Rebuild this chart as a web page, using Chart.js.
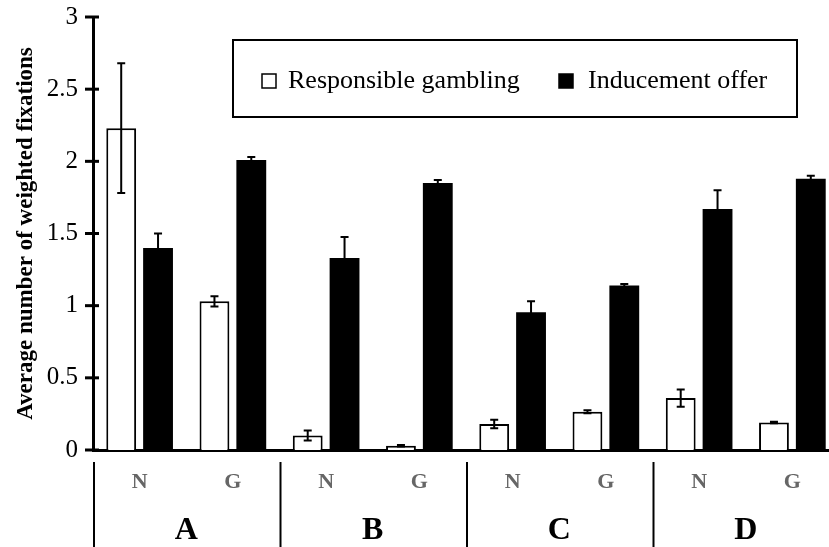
<!DOCTYPE html>
<html>
<head>
<meta charset="utf-8">
<script src="https://cdn.jsdelivr.net/npm/chart.js@4"></script>
<style>
  html, body { margin: 0; padding: 0; overflow: hidden; background: #fff; }
</style>
</head>
<body>
<canvas id="chart" width="839" height="547"></canvas>
<script>
const categories = ['N', 'G', 'N', 'G', 'N', 'G', 'N', 'G'];
const groups = ['A', 'B', 'C', 'D'];
const responsible = [2.23, 1.03, 0.10, 0.03, 0.18, 0.265, 0.36, 0.19];
const responsibleErr = [0.45, 0.035, 0.035, 0.005, 0.03, 0.01, 0.06, 0.005];
const inducement = [1.40, 2.01, 1.33, 1.85, 0.955, 1.14, 1.67, 1.88];
const inducementErr = [0.10, 0.02, 0.145, 0.02, 0.075, 0.01, 0.13, 0.02];

const serif = "'Liberation Serif', 'Times New Roman', serif";

// error bars, y tick marks crossing the axis
const errorBars = {
  id: 'errorBars',
  afterDatasetsDraw(chart) {
    const ctx = chart.ctx;
    const y = chart.scales.y;
    ctx.save();
    ctx.strokeStyle = '#000';
    ctx.lineWidth = 2;
    chart.data.datasets.forEach((ds, di) => {
      const meta = chart.getDatasetMeta(di);
      meta.data.forEach((bar, i) => {
        const v = ds.data[i], e = ds.errors[i];
        const top = y.getPixelForValue(v + e);
        const bot = y.getPixelForValue(v - e);
        ctx.beginPath();
        ctx.moveTo(bar.x, top); ctx.lineTo(bar.x, bot);
        ctx.moveTo(bar.x - 4, top); ctx.lineTo(bar.x + 4, top);
        ctx.moveTo(bar.x - 4, bot); ctx.lineTo(bar.x + 4, bot);
        ctx.stroke();
      });
    });
    ctx.restore();
  },
  afterDraw(chart) {
    const ctx = chart.ctx;
    const y = chart.scales.y;
    const x = chart.scales.x;
    const area = chart.chartArea;
    ctx.save();
    // y ticks
    ctx.strokeStyle = '#000';
    ctx.lineWidth = 3;
    y.ticks.forEach(t => {
      const py = y.getPixelForValue(t.value);
      ctx.beginPath();
      ctx.moveTo(area.left - 8, py); ctx.lineTo(area.left + 6, py);
      ctx.stroke();
    });
    // group separators and labels
    const half = (x.getPixelForValue(1) - x.getPixelForValue(0)) / 2;
    ctx.lineWidth = 2;
    groups.forEach((g, gi) => {
      const sx = x.getPixelForValue(gi * 2) - half;
      ctx.beginPath();
      ctx.moveTo(sx + 1, 462); ctx.lineTo(sx + 1, 547);
      ctx.stroke();
      const cx = (x.getPixelForValue(gi * 2) + x.getPixelForValue(gi * 2 + 1)) / 2;
      ctx.fillStyle = '#000';
      ctx.font = 'bold 32px ' + serif;
      ctx.textAlign = 'center';
      ctx.textBaseline = 'alphabetic';
      ctx.fillText(g, cx, 539);
    });
    // legend
    ctx.lineWidth = 2;
    ctx.strokeRect(233, 40, 564, 77);
    ctx.font = '26px ' + serif;
    ctx.textAlign = 'left';
    ctx.textBaseline = 'alphabetic';
    const items = [[262, 288], [559, 588]];
    chart.data.datasets.forEach((ds, di) => {
      const [bx, tx] = items[di];
      ctx.fillStyle = ds.backgroundColor;
      ctx.fillRect(bx, 74, 14, 14);
      ctx.lineWidth = 1.5;
      ctx.strokeRect(bx, 74, 14, 14);
      ctx.fillStyle = '#000';
      ctx.fillText(ds.label, tx, 88);
    });
    ctx.restore();
  }
};

new Chart(document.getElementById('chart'), {
  type: 'bar',
  data: {
    labels: categories,
    datasets: [
      {
        label: 'Responsible gambling',
        data: responsible,
        errors: responsibleErr,
        backgroundColor: '#fff',
        borderColor: '#000',
        borderWidth: 2,
        categoryPercentage: 0.79,
        barPercentage: 0.81
      },
      {
        label: 'Inducement offer',
        data: inducement,
        errors: inducementErr,
        backgroundColor: '#000',
        borderColor: '#000',
        borderWidth: 0,
        categoryPercentage: 0.79,
        barPercentage: 0.81
      }
    ]
  },
  options: {
    responsive: false,
    animation: false,
    layout: { padding: { top: 17, left: 0, right: 0, bottom: 0 } },
    plugins: { legend: { display: false }, tooltip: { enabled: false } },
    scales: {
      x: {
        grid: { display: false, drawTicks: false },
        border: { display: true, color: '#000', width: 3 },
        ticks: {
          color: '#666',
          font: { family: serif, size: 22, weight: 'bold' },
          padding: 19
        },
        afterFit(scale) { scale.height = 97; }
      },
      y: {
        min: 0,
        max: 3,
        grid: { display: false, drawTicks: false },
        border: { display: true, color: '#000', width: 3 },
        ticks: {
          stepSize: 0.5,
          color: '#000',
          font: { family: serif, size: 25 },
          padding: 15,
          callback: v => String(Number(v))
        },
        title: {
          display: true,
          text: 'Average number of weighted fixations',
          color: '#000',
          font: { family: serif, size: 23, weight: 'bold' },
          padding: { top: 12, bottom: 0 }
        },
        afterFit(scale) {
          scale.width = 93;
          scale.paddingTop = 0;
          scale.paddingBottom = 0;
        }
      }
    }
  },
  plugins: [errorBars]
});
</script>
</body>
</html>
